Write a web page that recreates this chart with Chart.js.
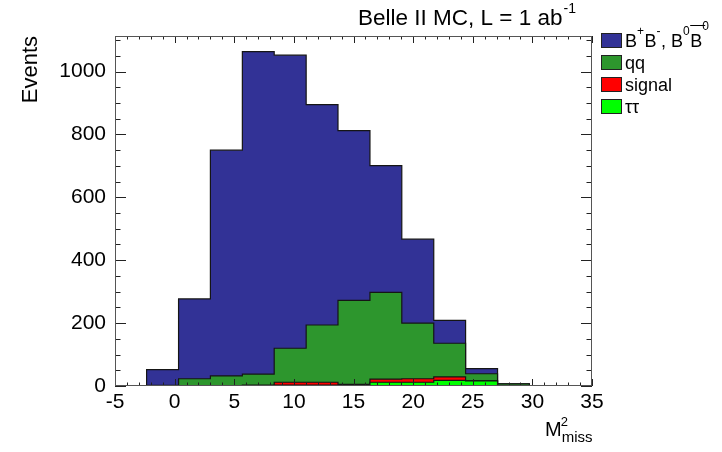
<!DOCTYPE html>
<html>
<head>
<meta charset="utf-8">
<title>Belle II MC missing mass squared</title>
<script src="https://cdn.jsdelivr.net/npm/chart.js@4/dist/chart.umd.min.js"></script>
<style>
  html, body { margin: 0; padding: 0; background: #ffffff; }
  #wrap { width: 722px; height: 452px; position: relative; }
</style>
</head>
<body>
<div id="wrap"><canvas id="c" width="722" height="452"></canvas></div>
<script>
// Histogram bin edges (M^2_miss) and per-bin event counts for each sample
const binEdges = [-2.35, 0.33, 3.0, 5.68, 8.35, 11.03, 13.7, 16.38, 19.05, 21.73, 24.4, 27.08, 29.75];
const bbbar  = [50, 254, 718, 1025, 932, 701, 540, 403, 267, 73, 16, 0];
const qqbar  = [2, 23, 32, 35, 108, 182, 267, 276, 177, 107, 23, 7];
const signal = [0, 0, 0, 3, 9, 9, 5, 10, 11, 11, 0, 0];
const tautau = [0, 0, 0, 0, 3, 3, 0, 12, 12, 18, 16, 0];

const xTickValues = [-5, 0, 5, 10, 15, 20, 25, 30, 35];
const yTickValues = [0, 200, 400, 600, 800, 1000];

const seriesNames  = ['B+B-, B0B0', 'qq', 'signal', '\u03c4\u03c4'];
const seriesColors = ['#323296', '#2d962d', '#ff0000', '#00ff00'];

const FONT = '"Liberation Sans", Arial, Helvetica, sans-serif';

// Stack order bottom to top: tautau, signal, qq, BB
function cumulate(layers) {
  const out = [];
  let run = binEdges.slice(0, -1).map(() => 0);
  for (const l of layers) {
    run = run.map((v, i) => v + l[i]);
    out.push(run.slice());
  }
  return out;
}
const [cumTau, cumSig, cumQQ, cumAll] = cumulate([tautau, signal, qqbar, bbbar]);

// Step outline of a histogram: each point closes the bin that ends at its x
function stepPoints(vals) {
  const pts = [{ x: binEdges[0], y: 0 }];
  vals.forEach((v, i) => pts.push({ x: binEdges[i + 1], y: v }));
  pts.push({ x: binEdges[binEdges.length - 1], y: 0 });
  return pts;
}

function histDataset(name, vals, color) {
  return {
    label: name,
    data: stepPoints(vals),
    stepped: 'after',
    fill: 'origin',
    backgroundColor: color,
    borderColor: '#151515',
    borderWidth: 1.2,
    pointRadius: 0,
    tension: 0
  };
}

// ROOT-like frame, inward ticks and annotations
const decorations = {
  id: 'decorations',
  afterDatasetsDraw(chart) {
    const { ctx, chartArea: a, scales: { x, y } } = chart;
    ctx.save();
    ctx.strokeStyle = '#222';
    ctx.lineWidth = 1;
    ctx.beginPath();
    for (let v = x.min; v <= x.max; v++) {
      const px = Math.round(x.getPixelForValue(v)) + 0.5;
      const len = (v % 5 === 0) ? 7 : 3.5;
      ctx.moveTo(px, a.bottom); ctx.lineTo(px, a.bottom - len);
      ctx.moveTo(px, a.top); ctx.lineTo(px, a.top + len);
    }
    for (let v = 0; v <= y.max; v += 50) {
      const py = Math.round(y.getPixelForValue(v)) + 0.5;
      const len = (v % 200 === 0) ? 11 : 5.5;
      ctx.moveTo(a.left, py); ctx.lineTo(a.left + len, py);
      ctx.moveTo(a.right, py); ctx.lineTo(a.right - len, py);
    }
    ctx.stroke();
    ctx.strokeStyle = '#555';
    ctx.strokeRect(a.left + 0.5, a.top + 0.5, a.right - a.left - 1, a.bottom - a.top - 1);
    ctx.restore();
  },
  afterDraw(chart) {
    const { ctx } = chart;
    ctx.save();
    ctx.fillStyle = '#000';
    ctx.textBaseline = 'alphabetic';
    ctx.textAlign = 'left';

    // title
    ctx.font = '22.5px ' + FONT;
    const t = 'Belle II MC, L = 1 ab';
    ctx.fillText(t, 358, 25);
    const tw = ctx.measureText(t).width;
    ctx.font = '14px ' + FONT;
    ctx.fillText('-1', 358 + tw + 1, 13);

    // y axis title
    ctx.save();
    ctx.translate(37, 36);
    ctx.rotate(-Math.PI / 2);
    ctx.font = '22px ' + FONT;
    ctx.textAlign = 'right';
    ctx.fillText('Events', 0, 0);
    ctx.restore();

    // x axis title
    ctx.font = '20px ' + FONT;
    ctx.fillText('M', 545, 436);
    const mw = ctx.measureText('M').width;
    ctx.font = '13px ' + FONT;
    ctx.fillText('2', 545 + mw - 1, 426);
    ctx.font = '15px ' + FONT;
    ctx.fillText('miss', 545 + mw, 442);

    // legend
    const lx = 601, bw = 21, bh = 15;
    seriesNames.forEach((name, i) => {
      const top = 33 + i * 22;
      ctx.fillStyle = seriesColors[i];
      ctx.fillRect(lx, top, bw, bh);
      ctx.strokeStyle = '#222';
      ctx.lineWidth = 1;
      ctx.strokeRect(lx + 0.5, top + 0.5, bw - 1, bh - 1);
      ctx.fillStyle = '#000';
      const base = top + bh / 2 + 6;
      let cx = 625;
      const big = '18px ' + FONT, small = '12px ' + FONT;
      if (i === 0) {
        // B+B-, B0 Bbar0 : kind 1 = superscript, 2 = overlined, 3 = raised superscript
        const parts = [
          ['B', 0], ['+', 1], ['B', 0], ['-', 1], [', B', 0], ['0', 1], ['B', 2], ['0', 3]
        ];
        for (const [s, kind] of parts) {
          const isSup = kind === 1 || kind === 3;
          ctx.font = isSup ? small : big;
          const dy = kind === 1 ? -12 : kind === 3 ? -16.5 : 0;
          ctx.fillText(s, cx, base + dy);
          const w = ctx.measureText(s).width;
          if (kind === 2) {
            ctx.beginPath();
            ctx.moveTo(cx, base - 21);
            ctx.lineTo(cx + w + 3, base - 21);
            ctx.strokeStyle = '#000';
            ctx.lineWidth = 1;
            ctx.stroke();
          }
          cx += w + (isSup ? 0.5 : 0);
        }
      } else {
        ctx.font = big;
        ctx.fillText(name, cx, base);
      }
    });
    ctx.restore();
  }
};

new Chart(document.getElementById('c'), {
  type: 'line',
  data: {
    datasets: [
      histDataset(seriesNames[3], cumTau, seriesColors[3]),
      histDataset(seriesNames[2], cumSig, seriesColors[2]),
      histDataset(seriesNames[1], cumQQ, seriesColors[1]),
      histDataset(seriesNames[0], cumAll, seriesColors[0])
    ]
  },
  options: {
    responsive: false,
    animation: false,
    devicePixelRatio: 1,
    layout: { padding: { left: 0, top: 36, right: 130, bottom: 0 } },
    plugins: { legend: { display: false }, tooltip: { enabled: false }, title: { display: false } },
    scales: {
      x: {
        type: 'linear',
        min: -5, max: 35,
        afterBuildTicks(s) { s.ticks = xTickValues.map(v => ({ value: v })); },
        afterFit(s) { s.height = 66; },
        ticks: { font: { size: 21, family: FONT }, color: '#000', padding: 4, maxRotation: 0, autoSkip: false },
        grid: { display: false, drawTicks: false },
        border: { display: false }
      },
      y: {
        min: 0, max: 1113,
        afterBuildTicks(s) { s.ticks = yTickValues.map(v => ({ value: v })); },
        afterFit(s) { s.width = 115; },
        ticks: { font: { size: 21, family: FONT }, color: '#000', padding: 9, callback: v => String(v) },
        grid: { display: false, drawTicks: false },
        border: { display: false }
      }
    }
  },
  plugins: [decorations]
});
</script>
</body>
</html>
